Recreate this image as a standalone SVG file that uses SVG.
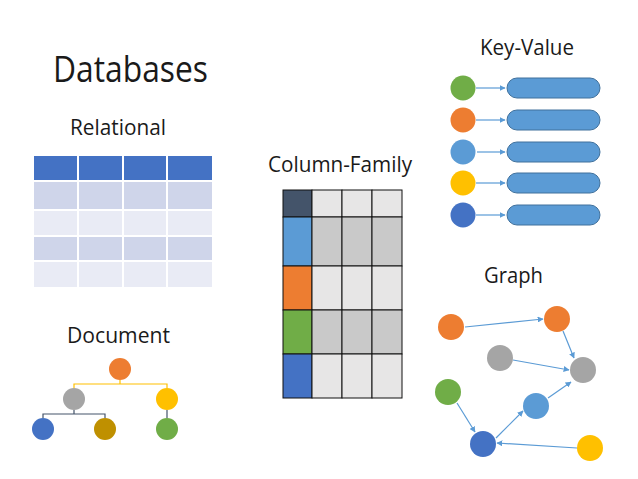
<svg xmlns="http://www.w3.org/2000/svg" width="638" height="479" viewBox="0 0 638 479">
<style>
text{font-family:"Open Sans","Liberation Sans",sans-serif;fill:#1a1a1a}
.t{font-size:21px}
.hd{fill:#4472C4}
.r1{fill:#CFD5EA}
.r2{fill:#E9EBF5}
.cl{fill:#E7E6E6;stroke:#111;stroke-width:1}
.cd{fill:#C9C9C9;stroke:#111;stroke-width:1}
.pill{fill:#5B9BD5;stroke:#41719C;stroke-width:1}
.a{stroke:#5B9BD5;stroke-width:1.2;fill:none;marker-end:url(#ah)}
</style>
<defs>
<marker id="ah" viewBox="0 0 10 10" refX="9" refY="5" markerWidth="6" markerHeight="6" orient="auto" markerUnits="userSpaceOnUse">
<path d="M0,0 L10,5 L0,10 z" fill="#5B9BD5"/>
</marker>
</defs>
<rect width="638" height="479" fill="#fff"/>

<g id="title"><text x="53" y="82" font-size="36" textLength="155" lengthAdjust="spacingAndGlyphs">Databases</text></g>

<g id="relational">
<text class="t" x="70" y="135" textLength="96" lengthAdjust="spacingAndGlyphs">Relational</text>
<rect class="hd" x="34" y="156" width="43" height="24"/><rect class="hd" x="79" y="156" width="43" height="24"/><rect class="hd" x="124" y="156" width="42" height="24"/><rect class="hd" x="168" y="156" width="44" height="24"/>
<rect class="r1" x="34" y="182" width="43" height="27"/><rect class="r1" x="79" y="182" width="43" height="27"/><rect class="r1" x="124" y="182" width="42" height="27"/><rect class="r1" x="168" y="182" width="44" height="27"/>
<rect class="r2" x="34" y="211" width="43" height="24"/><rect class="r2" x="79" y="211" width="43" height="24"/><rect class="r2" x="124" y="211" width="42" height="24"/><rect class="r2" x="168" y="211" width="44" height="24"/>
<rect class="r1" x="34" y="237" width="43" height="23"/><rect class="r1" x="79" y="237" width="43" height="23"/><rect class="r1" x="124" y="237" width="42" height="23"/><rect class="r1" x="168" y="237" width="44" height="23"/>
<rect class="r2" x="34" y="262" width="43" height="25"/><rect class="r2" x="79" y="262" width="43" height="25"/><rect class="r2" x="124" y="262" width="42" height="25"/><rect class="r2" x="168" y="262" width="44" height="25"/>
</g>

<g id="document">
<text class="t" x="67" y="343" textLength="103" lengthAdjust="spacingAndGlyphs">Document</text>
<g fill="none" stroke-width="1.2">
<path d="M120,380 V384 M74,388 V384 H167 V388" stroke="#FFC000"/>
<path d="M74,410 V414 M43,418 V414 H105 V418 M167,410 V418" stroke="#44546A"/>
</g>
<circle cx="120" cy="369" r="11" fill="#ED7D31"/>
<circle cx="74" cy="399" r="11" fill="#A5A5A5"/>
<circle cx="167" cy="399" r="11" fill="#FFC000"/>
<circle cx="43" cy="429" r="11" fill="#4472C4"/>
<circle cx="105" cy="429" r="11" fill="#BF9000"/>
<circle cx="167" cy="429" r="11" fill="#70AD47"/>
</g>

<g id="column-family">
<text class="t" x="268" y="172" textLength="144" lengthAdjust="spacingAndGlyphs">Column-Family</text>
<rect x="283" y="190" width="29" height="27" fill="#44546A" stroke="#111"/>
<rect class="cl" x="312" y="190" width="30" height="27"/><rect class="cl" x="342" y="190" width="30" height="27"/><rect class="cl" x="372" y="190" width="30" height="27"/>
<rect x="283" y="217" width="29" height="49" fill="#5B9BD5" stroke="#111"/>
<rect class="cd" x="312" y="217" width="30" height="49"/><rect class="cd" x="342" y="217" width="30" height="49"/><rect class="cd" x="372" y="217" width="30" height="49"/>
<rect x="283" y="266" width="29" height="44" fill="#ED7D31" stroke="#111"/>
<rect class="cl" x="312" y="266" width="30" height="44"/><rect class="cl" x="342" y="266" width="30" height="44"/><rect class="cl" x="372" y="266" width="30" height="44"/>
<rect x="283" y="310" width="29" height="44" fill="#70AD47" stroke="#111"/>
<rect class="cd" x="312" y="310" width="30" height="44"/><rect class="cd" x="342" y="310" width="30" height="44"/><rect class="cd" x="372" y="310" width="30" height="44"/>
<rect x="283" y="354" width="29" height="44" fill="#4472C4" stroke="#111"/>
<rect class="cl" x="312" y="354" width="30" height="44"/><rect class="cl" x="342" y="354" width="30" height="44"/><rect class="cl" x="372" y="354" width="30" height="44"/>
</g>

<g id="key-value">
<text class="t" x="480" y="55" textLength="94" lengthAdjust="spacingAndGlyphs">Key-Value</text>
<circle cx="463" cy="88" r="12.5" fill="#70AD47"/>
<circle cx="463" cy="120" r="12.5" fill="#ED7D31"/>
<circle cx="463" cy="152" r="12.5" fill="#5B9BD5"/>
<circle cx="463" cy="183" r="12.5" fill="#FFC000"/>
<circle cx="463" cy="215" r="12.5" fill="#4472C4"/>
<rect class="pill" x="507" y="78" width="93" height="20" rx="10"/>
<rect class="pill" x="507" y="110" width="93" height="20" rx="10"/>
<rect class="pill" x="507" y="142" width="93" height="20" rx="10"/>
<rect class="pill" x="507" y="173" width="93" height="20" rx="10"/>
<rect class="pill" x="507" y="205" width="93" height="20" rx="10"/>
</g>

<g id="graph">
<text class="t" x="484" y="283" textLength="59" lengthAdjust="spacingAndGlyphs">Graph</text>
<circle cx="451" cy="327" r="13" fill="#ED7D31"/>
<circle cx="557" cy="319" r="13" fill="#ED7D31"/>
<circle cx="500" cy="358" r="13" fill="#A5A5A5"/>
<circle cx="583" cy="370" r="13" fill="#A5A5A5"/>
<circle cx="448" cy="392" r="13" fill="#70AD47"/>
<circle cx="536" cy="406" r="13" fill="#5B9BD5"/>
<circle cx="483" cy="444" r="13" fill="#4472C4"/>
<circle cx="590" cy="448" r="13" fill="#FFC000"/>
</g>

<g id="connectors">
<path class="a" d="M476,88 H505"/>
<path class="a" d="M476,120 H505"/>
<path class="a" d="M477,152 H505"/>
<path class="a" d="M476,183 H505"/>
<path class="a" d="M476,215 H505"/>
<path class="a" d="M465,327 L543,319"/>
<path class="a" d="M563,331 L574,358"/>
<path class="a" d="M513,360 L569,370"/>
<path class="a" d="M457,403 L475,432"/>
<path class="a" d="M496,438 L523,411"/>
<path class="a" d="M548,398 L571,382"/>
<path class="a" d="M577,448 L497,443"/>
</g>
</svg>
